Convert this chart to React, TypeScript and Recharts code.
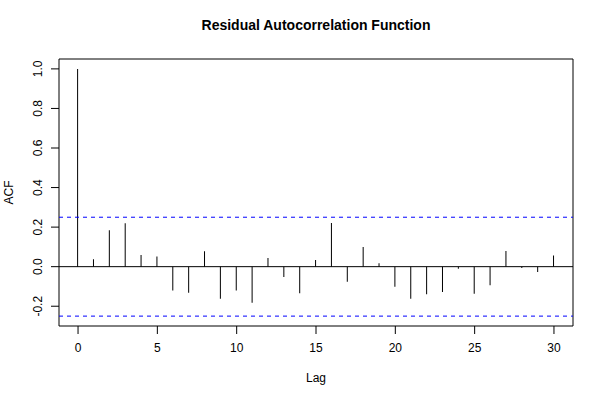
import {
  ComposedChart,
  Bar,
  XAxis,
  YAxis,
  ReferenceLine,
  ReferenceArea,
  Label,
} from 'recharts';

const lags = [0, 1, 2, 3, 4, 5, 6, 7, 8, 9, 10, 11, 12, 13, 14, 15, 16, 17, 18, 19, 20, 21, 22, 23, 24, 25, 26, 27, 28, 29, 30];
const acfValues = [
  1, 0.037, 0.184, 0.219, 0.059, 0.051, -0.121, -0.132, 0.078, -0.162, -0.121,
  -0.182, 0.044, -0.052, -0.135, 0.034, 0.221, -0.076, 0.099, 0.017, -0.101,
  -0.162, -0.14, -0.128, -0.01, -0.137, -0.094, 0.079, -0.007, -0.027, 0.056,
];
const ciBound = 0.25;
const xTicks = [0, 5, 10, 15, 20, 25, 30];
const yTicks = [-0.2, 0, 0.2, 0.4, 0.6, 0.8, 1.0];
const xDomain = [-1.2, 31.2];
const yDomain = [-0.3, 1.05];

const FONT = '"Liberation Sans", Arial, Helvetica, sans-serif';

const data = lags.map((lag, i) => ({ lag, acf: acfValues[i] }));

// R style: y tick labels run parallel to the axis
const YTick = (props: any) => {
  const { x, y, payload } = props;
  const tx = x - 7;
  return (
    <text
      x={tx}
      y={y}
      transform={`rotate(-90, ${tx}, ${y})`}
      textAnchor="middle"
      fontFamily={FONT}
      fontSize={12}
      fill="#000"
    >
      {Number(payload.value).toFixed(1)}
    </text>
  );
};

export default function App() {
  return (
    <div style={{ position: 'absolute', left: 0, top: 0, width: 600, height: 400, background: '#fff' }}>
      <div
        style={{
          position: 'absolute',
          left: 59,
          width: 514,
          top: 17,
          textAlign: 'center',
          fontFamily: FONT,
          fontWeight: 'bold',
          fontSize: 14,
          color: '#000',
        }}
      >
        Residual Autocorrelation Function
      </div>
      <ComposedChart
        width={600}
        height={400}
        data={data}
        margin={{ top: 59, right: 27, left: 0, bottom: 0 }}
      >
        <XAxis
          dataKey="lag"
          type="number"
          domain={xDomain}
          ticks={xTicks}
          allowDataOverflow
          height={74}
          axisLine={false}
          tickLine={{ stroke: '#000' }}
          tickSize={8}
          tickMargin={9}
          tick={{ fontFamily: FONT, fontSize: 12, fill: '#000' }}
        >
          <Label
            value="Lag"
            position="insideBottom"
            offset={18}
            style={{ fontFamily: FONT, fontSize: 12, fill: '#000' }}
          />
        </XAxis>
        <YAxis
          type="number"
          domain={yDomain}
          ticks={yTicks}
          allowDataOverflow
          width={59}
          axisLine={false}
          tickLine={{ stroke: '#000' }}
          tickSize={8}
          tickMargin={2}
          tick={<YTick />}
        >
          <Label
            value="ACF"
            angle={-90}
            position="insideLeft"
            offset={9}
            style={{ fontFamily: FONT, fontSize: 12, fill: '#000', textAnchor: 'middle' }}
          />
        </YAxis>
        <ReferenceArea
          x1={xDomain[0]}
          x2={xDomain[1]}
          y1={yDomain[0]}
          y2={yDomain[1]}
          fill="none"
          stroke="#000"
        />
        <ReferenceLine y={0} stroke="#000" />
        <ReferenceLine y={ciBound} stroke="#0000ff" strokeDasharray="4 4" />
        <ReferenceLine y={-ciBound} stroke="#0000ff" strokeDasharray="4 4" />
        <Bar dataKey="acf" fill="#000" barSize={1} isAnimationActive={false} />
      </ComposedChart>
    </div>
  );
}
